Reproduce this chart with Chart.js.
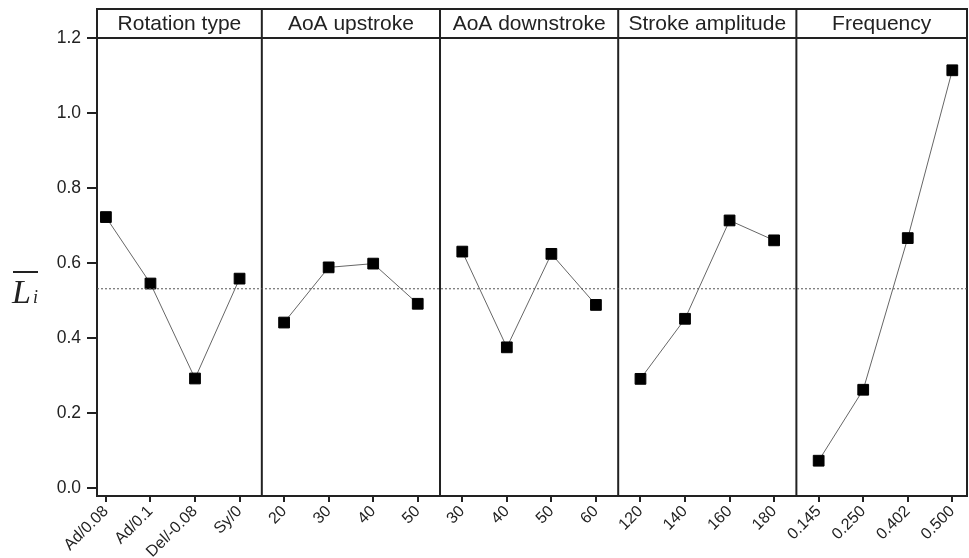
<!DOCTYPE html>
<html>
  <head>
    <title>Mean Li per factor level</title>
    <script src="https://cdn.jsdelivr.net/npm/chart.js"></script>
    <style>body { margin: 0; background: #fff; }</style>
  </head>
  <body>
    <canvas id="myChart" width="969" height="558"></canvas>
    <script>
      var panelTitles = ["Rotation type", "AoA upstroke", "AoA downstroke", "Stroke amplitude", "Frequency"];
      var tickLabels = ["Ad/0.08", "Ad/0.1", "Del/-0.08", "Sy/0",
                        "20", "30", "40", "50",
                        "30", "40", "50", "60",
                        "120", "140", "160", "180",
                        "0.145", "0.250", "0.402", "0.500"];
      var rotationVals = [0.723, 0.546, 0.293, 0.559];
      var aoaUpVals = [0.442, 0.589, 0.599, 0.492];
      var aoaDownVals = [0.631, 0.376, 0.625, 0.489];
      var amplitudeVals = [0.292, 0.452, 0.714, 0.661];
      var frequencyVals = [0.074, 0.263, 0.667, 1.114];
      var meanValue = 0.532;
      var yTicks = [0, 0.2, 0.4, 0.6, 0.8, 1.0, 1.2];

      var groups = [rotationVals, aoaUpVals, aoaDownVals, amplitudeVals, frequencyVals];
      var xMin = -0.2, xMax = 19.33;
      var ink = "#222";
      var font = "'Liberation Sans', Arial, sans-serif";

      var datasets = groups.map(function (vals, p) {
        return {
          data: vals.map(function (v, i) { return { x: p * 4 + i, y: v }; }),
          borderColor: "#666",
          borderWidth: 1,
          pointStyle: "rect",
          pointRadius: 7.6,
          pointBackgroundColor: "#000",
          pointBorderColor: "#000",
          pointBorderWidth: 1,
          tension: 0
        };
      });
      datasets.unshift({
        data: [{ x: xMin, y: meanValue }, { x: xMax, y: meanValue }],
        borderColor: "#555",
        borderWidth: 1,
        borderDash: [2, 2],
        pointRadius: 0
      });

      // frame, panel dividers, title band and the y title
      var framePlugin = {
        id: "frame",
        beforeDatasetsDraw: function (chart) {
          var c = chart.ctx, a = chart.chartArea, xs = chart.scales.x;
          var bandTop = 9;
          c.save();
          c.strokeStyle = ink;
          c.lineWidth = 2;
          c.strokeRect(a.left, bandTop, a.right - a.left, a.bottom - bandTop);
          c.beginPath();
          c.moveTo(a.left, a.top);
          c.lineTo(a.right, a.top);
          var edges = [a.left];
          for (var p = 1; p < groups.length; p++) {
            var px = xs.getPixelForValue(p * 4 - 0.5);
            c.moveTo(px, bandTop);
            c.lineTo(px, a.bottom);
            edges.push(px);
          }
          edges.push(a.right);
          c.stroke();
          c.fillStyle = ink;
          c.font = "21px " + font;
          c.textAlign = "center";
          c.textBaseline = "alphabetic";
          for (var k = 0; k < panelTitles.length; k++) {
            c.fillText(panelTitles[k], (edges[k] + edges[k + 1]) / 2, 30);
          }
          // y axis title: L with overbar, subscript i
          c.textAlign = "left";
          c.font = "italic 34px 'Liberation Serif', 'DejaVu Serif', serif";
          c.fillText("L", 12, 303);
          c.font = "italic 18px 'Liberation Serif', 'DejaVu Serif', serif";
          c.fillText("i", 33, 303);
          c.beginPath();
          c.moveTo(13, 272);
          c.lineTo(38, 272);
          c.stroke();
          c.restore();
        }
      };

      var ctx = document.getElementById("myChart").getContext("2d");
      var myChart = new Chart(ctx, {
        type: "line",
        data: { datasets: datasets },
        options: {
          responsive: false,
          animation: false,
          layout: { autoPadding: false, padding: { top: 38, right: 2, left: 0, bottom: 0 } },
          plugins: { legend: { display: false }, tooltip: { enabled: false } },
          scales: {
            x: {
              type: "linear",
              min: xMin,
              max: xMax,
              afterBuildTicks: function (s) {
                s.ticks = tickLabels.map(function (_, i) { return { value: i }; });
              },
              afterFit: function (s) { s.height = 62; },
              border: { display: false },
              grid: { drawOnChartArea: false, drawTicks: true, tickLength: 6, color: ink, lineWidth: 2 },
              ticks: {
                autoSkip: false,
                minRotation: 45,
                maxRotation: 45,
                padding: 0,
                color: ink,
                font: { size: 16, family: font },
                callback: function (v) { return tickLabels[v]; }
              }
            },
            y: {
              min: -0.02,
              max: 1.2,
              afterBuildTicks: function (s) {
                s.ticks = yTicks.map(function (v) { return { value: v }; });
              },
              afterFit: function (s) { s.width = 97; },
              border: { display: false },
              grid: { drawOnChartArea: false, drawTicks: true, tickLength: 10, color: ink, lineWidth: 2 },
              ticks: {
                padding: 6,
                color: ink,
                font: { size: 17.5, family: font },
                callback: function (v) { return v.toFixed(1); }
              }
            }
          }
        },
        plugins: [framePlugin]
      });
    </script>
  </body>
</html>
